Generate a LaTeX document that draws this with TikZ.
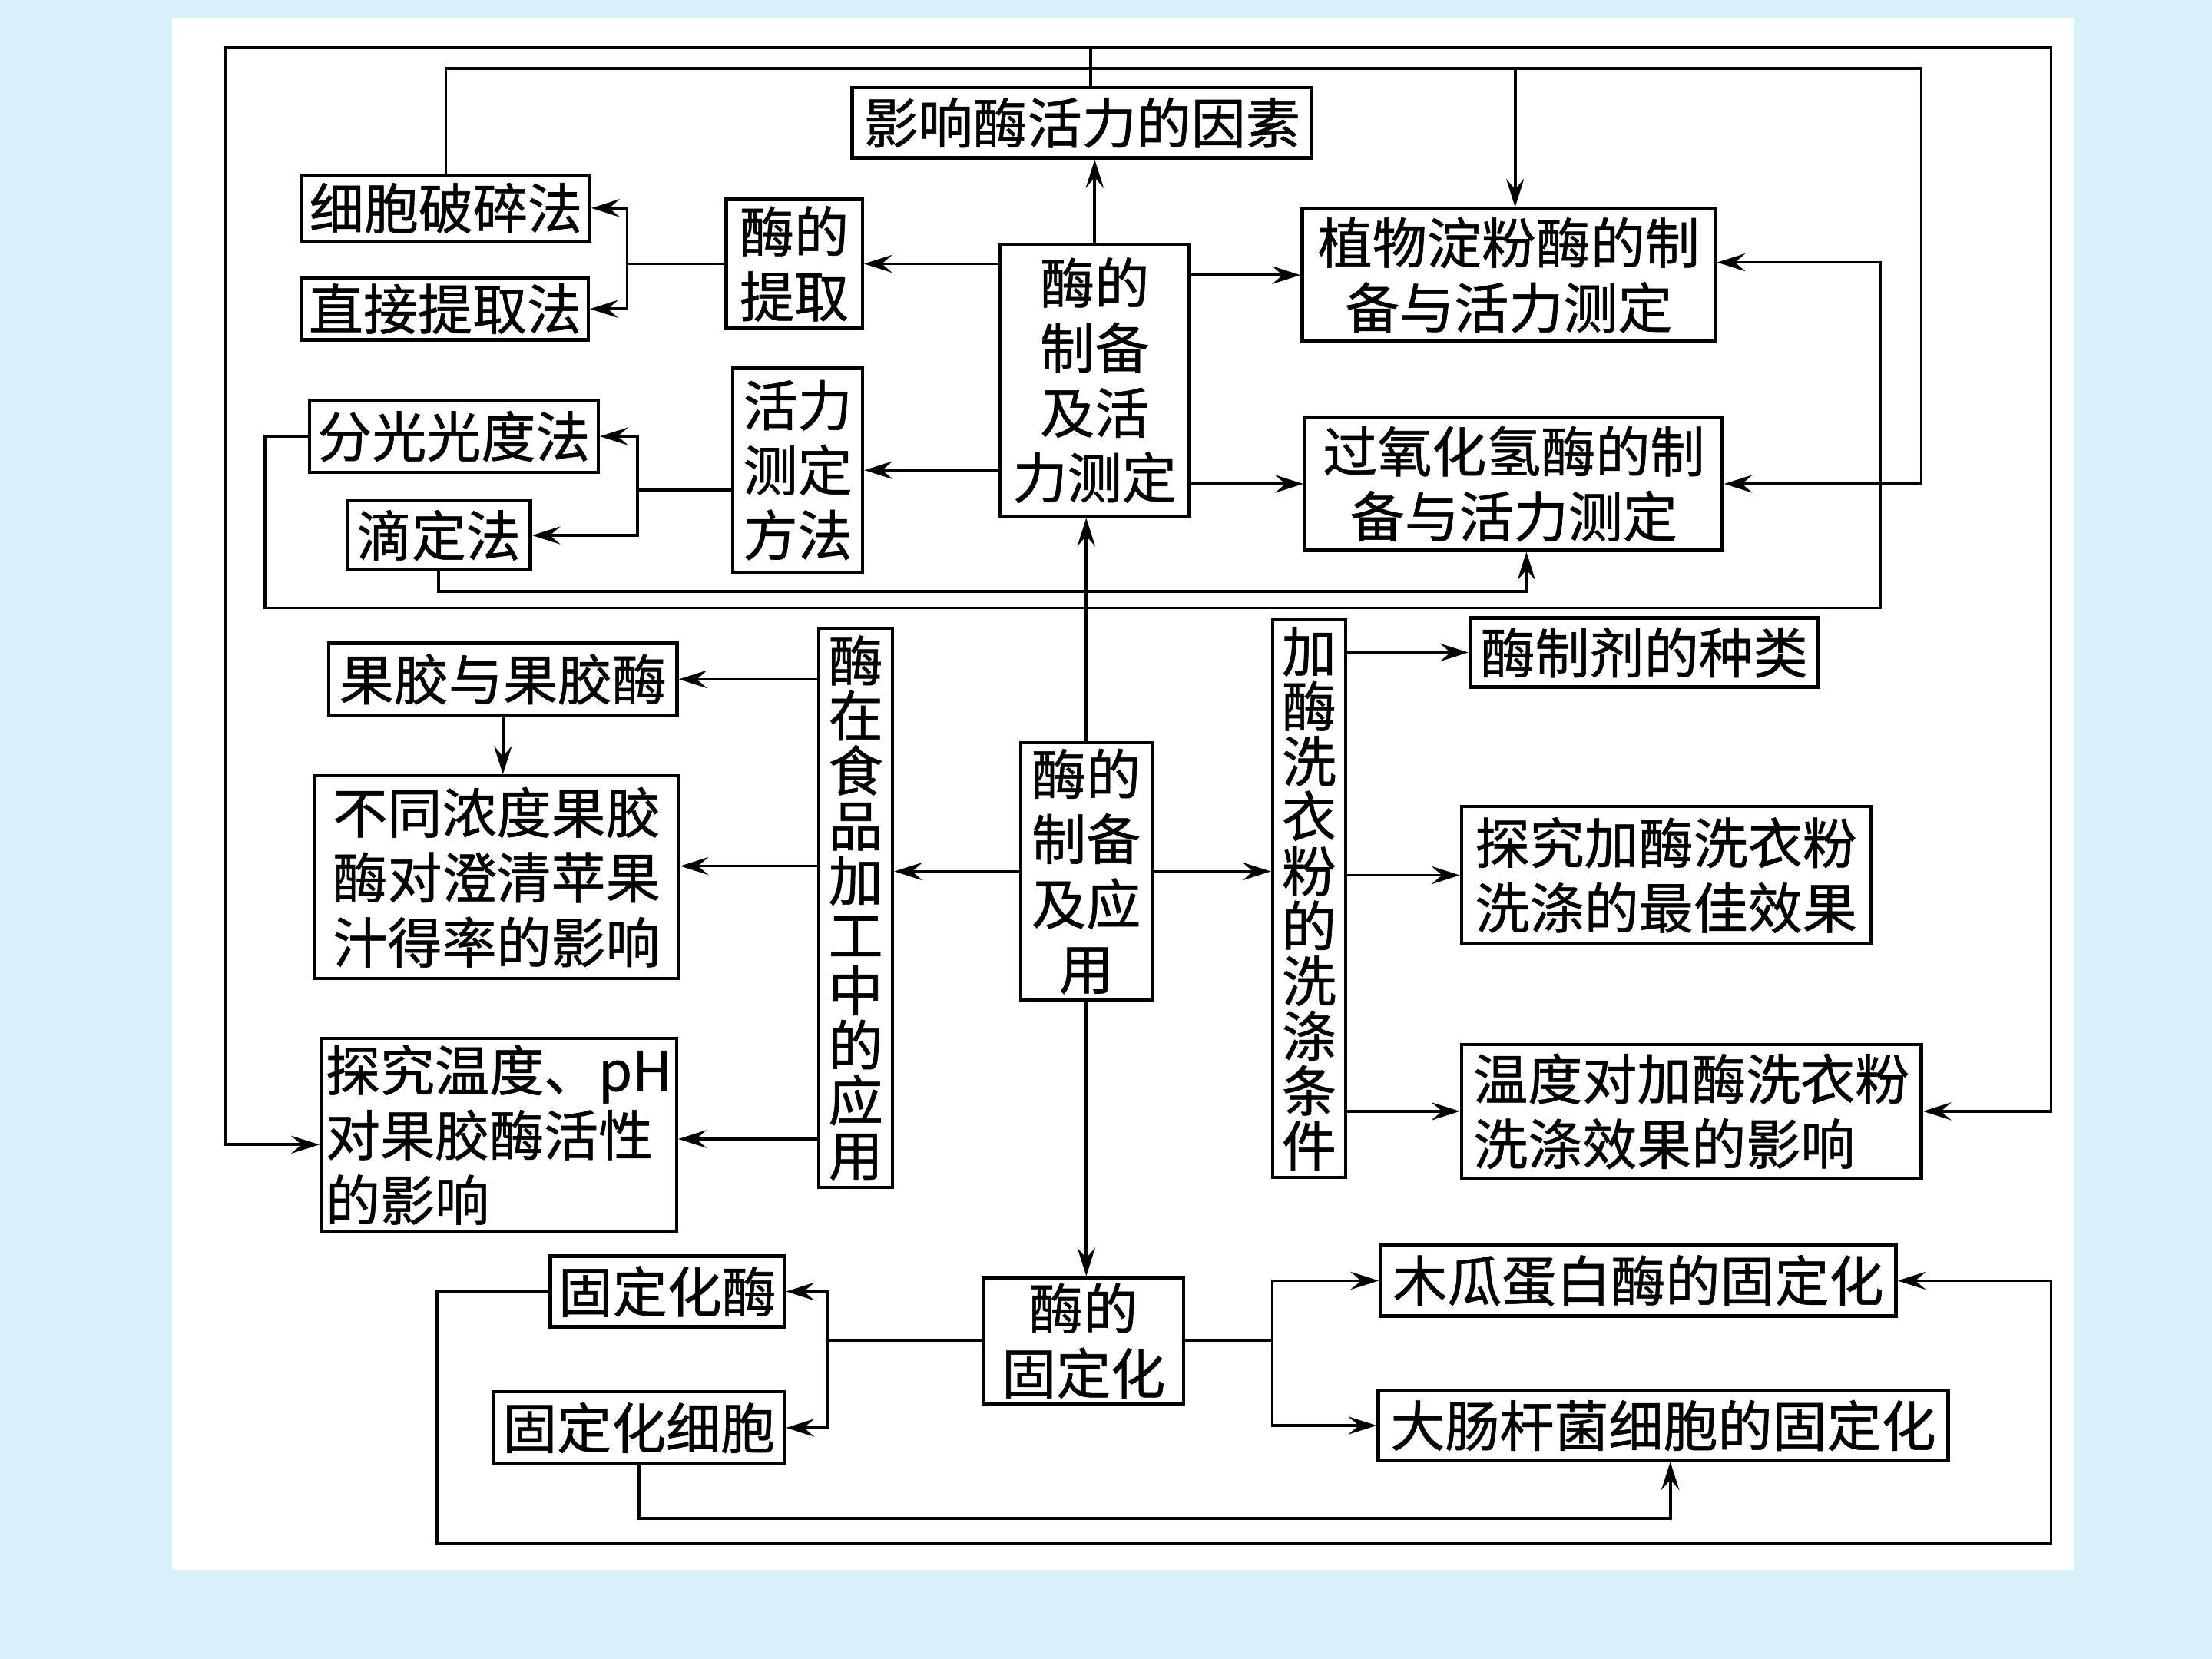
\documentclass[tikz,border=0pt]{standalone}
\usepackage{fontspec}
\setmainfont{Liberation Serif}
\newfontfamily\cjk[FakeBold=0.8]{Noto Sans CJK SC}
\usetikzlibrary{arrows.meta,calc}
\definecolor{bgblue}{RGB}{214,239,249}

\begin{document}
\begin{tikzpicture}[x=0.75pt,y=0.75pt,yscale=-1,xscale=1,
    box/.style={draw,line width=1.8pt,inner sep=0pt,align=center,font=\cjk\fontsize{29}{34.5}\selectfont},
    vbox/.style={box,font=\cjk\fontsize{29}{29.2}\selectfont},
    link/.style={line width=1.5pt},
    arr/.style={link,-{Stealth[length=15pt,width=9.5pt,inset=5.5pt]}}]
  \fill[bgblue] (0,0) rectangle (1568,1176);
  \fill[white] (122,13) rectangle (1470,1113);
  \useasboundingbox (0,0) rectangle (1568,1176);

  % upper part
  \node[box,minimum width=244.5pt,minimum height=37.5pt] (yingxiang) at (767,87) {影响酶活力的因素};
  \node[box,minimum width=100.5pt,minimum height=144.75pt] (zhibei) at (776,269.5) {酶的\\制备\\及活\\力测定};
  \node[box,minimum width=72.4pt,minimum height=68.6pt] (tiqu) at (563,187) {酶的\\提取};
  \node[box,minimum width=153pt,minimum height=35.25pt] (xibao) at (316,147.5) {细胞破碎法};
  \node[box,minimum width=152.25pt,minimum height=33pt] (zhijie) at (315.5,219) {直接提取法};
  \node[box,minimum width=69pt,minimum height=108.5pt] (huoli) at (565.5,333.3) {活力\\测定\\方法};
  \node[box,minimum width=153.5pt,minimum height=38.5pt] (fenguang) at (321.7,309.3) {分光光度法};
  \node[box,minimum width=97.5pt,minimum height=36.75pt] (diding) at (311,379.5) {滴定法};
  \node[box,minimum width=219.75pt,minimum height=70.5pt] (zhiwu) at (1069.5,195) {植物淀粉酶的制\\备与活力测定};
  \node[box,minimum width=222pt,minimum height=70.5pt] (guoyang) at (1073,343) {过氧化氢酶的制\\备与活力测定};

  % middle part
  \node[box,minimum width=69.8pt,minimum height=136.9pt] (yingyong) at (770,617.7) {酶的\\制备\\及应\\用};
  \node[vbox,minimum width=39.2pt,minimum height=297.2pt] (shipin) at (606.6,643.6) {酶\\在\\食\\品\\加\\工\\中\\的\\应\\用};
  \node[box,minimum width=185.25pt,minimum height=38.25pt] (guojiao) at (356.5,481.5) {果胶与果胶酶};
  \node[box,align=left,minimum width=193.5pt,minimum height=107.8pt] (butong) at (352,621.9) {不同浓度果胶\\酶对澄清苹果\\汁得率的影响};
  \node[box,align=left,minimum width=189pt,minimum height=102.6pt] (tanjiu) at (353.6,804.4) {探究温度、pH\\对果胶酶活性\\的影响};
  \node[vbox,minimum width=39pt,minimum height=296.4pt] (xiyi) at (928,637.1) {加\\酶\\洗\\衣\\粉\\的\\洗\\涤\\条\\件};
  \node[box,minimum width=185.25pt,minimum height=36.75pt] (zhiji) at (1165.5,462.5) {酶制剂的种类};
  \node[box,minimum width=217.5pt,minimum height=72.9pt] (zuijia) at (1181,620.4) {探究加酶洗衣粉\\洗涤的最佳效果};
  \node[box,align=left,minimum width=244.5pt,minimum height=70.9pt] (wendu) at (1199,787.75) {温度对加酶洗衣粉\\洗涤效果的影响};

  % lower part
  \node[box,minimum width=106.5pt,minimum height=67pt] (guding) at (768,950.4) {酶的\\固定化};
  \node[box,minimum width=124.5pt,minimum height=37.5pt] (gudingmei) at (473,915.5) {固定化酶};
  \node[box,minimum width=154.8pt,minimum height=38.4pt] (gudingxibao) at (452.8,1012.1) {固定化细胞};
  \node[box,minimum width=274pt,minimum height=37.7pt] (mugua) at (1161.25,907.85) {木瓜蛋白酶的固定化};
  \node[box,minimum width=303pt,minimum height=36.75pt] (dachang) at (1179,1010.5) {大肠杆菌细胞的固定化};

  \coordinate (c1) at (188,431);
  \coordinate (c2) at (1333,431);
  \coordinate (c3) at (1362,48.5);
  \coordinate (c4) at (159.5,33.6);
  \coordinate (c5) at (1454,33.6);
  \coordinate (c6) at (309.8,1094.5);
  \coordinate (c7) at (1454,1094.5);

  \draw[arr] (zhibei.north) -- (zhibei.north |- yingxiang.south);
  \draw[arr] (zhibei.east |- zhiwu.west) -- (zhiwu.west);
  \draw[arr] (zhibei.east |- guoyang.west) -- (guoyang.west);
  \draw[arr] (zhibei.west |- tiqu.east) -- (tiqu.east);
  \draw[arr] (zhibei.west |- huoli.east) -- (huoli.east);

  \draw[arr] (tiqu.west) -- ++(-69,0) |- (xibao.east);
  \draw[arr] (tiqu.west) ++(-69,0) |- (zhijie.east);
  \draw[link] ($(huoli.west)+(0,14)$) -- ++(-66.5,0) coordinate (hl);
  \draw[arr] (hl) |- (fenguang.east);
  \draw[arr] (hl) |- (diding.east);

  \draw[arr] (fenguang.west) -| (c1) -- (c2) |- ($(zhiwu.east)+(0,-9)$);
  \draw[arr] (diding.south) -- ++(0,14) -| ($(guoyang.south)+(9,0)$);
  \draw[arr] (xibao.north) |- (c3) |- (guoyang.east);
  \draw[arr] ($(zhiwu.north |- c3)+(4.5,0)$) -- ($(zhiwu.north)+(4.5,0)$);
  \draw[arr] ($(yingxiang.north)+(6,0)$) |- (c4) |- ($(tanjiu.west)+(0,7)$);
  \draw[arr] ($(yingxiang.north)+(6,0)$) |- (c5) |- (wendu.east);

  \draw[arr] (yingyong.north) -- (yingyong.north |- zhibei.south);
  \draw[arr] (yingyong.west) -- (shipin.east |- yingyong.west);
  \draw[arr] (yingyong.east) -- (xiyi.west |- yingyong.east);
  \draw[arr] (yingyong.south) -- (yingyong.south |- guding.north);

  \draw[arr] (shipin.west |- guojiao.east) -- (guojiao.east);
  \draw[arr] ($(shipin.west |- butong.east)+(0,-8)$) -- ($(butong.east)+(0,-8)$);
  \draw[arr] ($(shipin.west |- tanjiu.east)+(0,3)$) -- ($(tanjiu.east)+(0,3)$);
  \draw[arr] (guojiao.south) -- (guojiao.south |- butong.north);

  \draw[arr] (xiyi.east |- zhiji.west) -- (zhiji.west);
  \draw[arr] (xiyi.east |- zuijia.west) -- (zuijia.west);
  \draw[arr] (xiyi.east |- wendu.west) -- (wendu.west);

  \draw[arr] (guding.west) -- ++(-109.4,0) |- (gudingmei.east);
  \draw[arr] (guding.west) ++(-109.4,0) |- (gudingxibao.east);
  \draw[arr] (guding.east) -- ++(61.6,0) |- (mugua.west);
  \draw[arr] (guding.east) ++(61.6,0) |- (dachang.west);
  \draw[arr] (gudingmei.west) -| (c6) -- (c7) |- (mugua.east);
  \draw[arr] (gudingxibao.south) -- ++(0,37.3) -| ($(dachang.south)+(5,0)$);
\end{tikzpicture}
\end{document}
